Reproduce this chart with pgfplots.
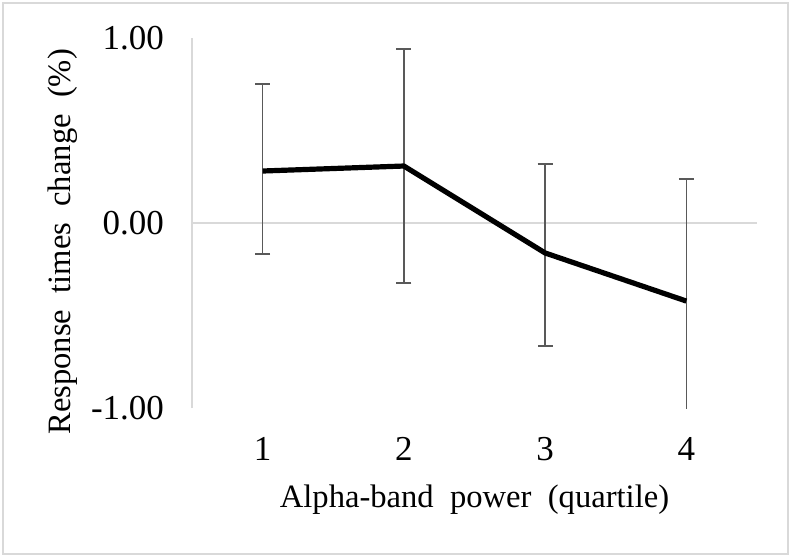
\documentclass[border=0pt]{standalone}
\usepackage{fontspec}
\setmainfont{Liberation Serif}
\usepackage{pgfplots}
\pgfplotsset{compat=1.18}
\definecolor{axgray}{HTML}{D9D9D9}
\definecolor{errgray}{HTML}{595959}
\begin{document}
\begin{tikzpicture}
\useasboundingbox (0,0) rectangle (395.5pt,278.5pt);
\draw[axgray, line width=1pt] (1.5pt,1.5pt) rectangle (394pt,277pt);
\begin{axis}[
  at={(96pt,74.5pt)}, anchor=south west,
  scale only axis,
  width=282.5pt, height=185pt,
  xmin=0.5, xmax=4.5,
  ymin=-1, ymax=1,
  axis x line=bottom, x axis line style={draw=none},
  axis y line=left, y axis line style={-, axgray, line width=0.8pt},
  major tick length=0pt,
  xtick={1,2,3,4},
  xticklabels={1,2,3,4},
  ytick={-1,0,1},
  yticklabels={-1.00,0.00,1.00},
  tick label style={font=\fontsize{17.5}{20}\selectfont},
  xticklabel style={yshift=-11pt},
  yticklabel style={xshift=-10.5pt},
  xlabel={Alpha-band\ \ power\ \ (quartile)},
  ylabel={Response\ \ times\ \ change\ \ (\%)},
  label style={font=\fontsize{16.3}{19}\selectfont},
  xlabel style={at={(axis description cs:0.5,-0.249)}, anchor=center},
  ylabel style={at={(axis description cs:-0.228,0.449)}, anchor=center},
  clip=true,
]
\addplot[axgray, line width=0.8pt] coordinates {(0.5,0) (4.5,0)};
\addplot[draw=none, mark=none,
  error bars/.cd, y dir=both, y explicit,
  error bar style={errgray, line width=0.75pt},
  error mark options={errgray, line width=0.75pt, rotate=90, mark size=3.75pt}]
  coordinates {
  (1,0.281) += (0,0.470) -= (0,0.449)
  (2,0.308) += (0,0.633) -= (0,0.632)
  (3,-0.162) += (0,0.481) -= (0,0.503)
  (4,-0.422) += (0,0.660) -= (0,0.660)
  };
\addplot[black, line width=2.6pt, line join=round, mark=none]
  coordinates {(1,0.281) (2,0.308) (3,-0.162) (4,-0.422)};
\end{axis}
\end{tikzpicture}
\end{document}
